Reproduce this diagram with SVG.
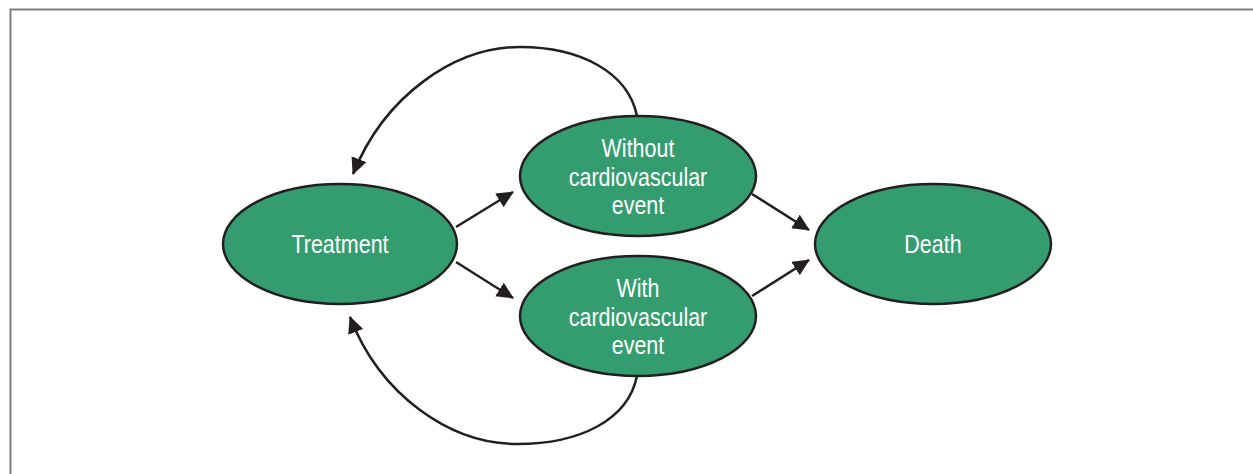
<svg xmlns="http://www.w3.org/2000/svg" width="1253" height="474" viewBox="0 0 1253 474">
<style>
.node ellipse{fill:#349d70;stroke:#231f20;stroke-width:2.5}
.node text{fill:#ffffff;font-family:"Liberation Sans",Arial,sans-serif;font-size:25px;text-anchor:middle}
.conn path,.conn line{fill:none;stroke:#231f20;stroke-width:2.5}
</style>
<defs>
<marker id="ah" markerUnits="userSpaceOnUse" markerWidth="20" markerHeight="18" refX="16" refY="8" orient="auto">
<path d="M0,0 L17,8 L0,16 z" fill="#231f20"/>
</marker>
</defs>
<rect width="1253" height="474" fill="#ffffff"/>
<path d="M10.5,474 V9.5 H1253" fill="none" stroke="#808080" stroke-width="2"/>
<g class="conn">
<line x1="456" y1="227" x2="513" y2="192" marker-end="url(#ah)"/>
<line x1="456" y1="262" x2="513" y2="298" marker-end="url(#ah)"/>
<line x1="752" y1="194" x2="809" y2="230" marker-end="url(#ah)"/>
<line x1="752" y1="296" x2="809" y2="260" marker-end="url(#ah)"/>
<path d="M637,116 C628,72 580,47 520,47 C455,47 385,95 353,174" marker-end="url(#ah)"/>
<path d="M637,376 C628,420 580,444 517,444 C450,444 380,395 350,317" marker-end="url(#ah)"/>
</g>
<g id="treatment" class="node">
<ellipse cx="340" cy="244" rx="117" ry="60"/>
<text transform="translate(340,253) scale(0.86,1)">Treatment</text>
</g>
<g id="without" class="node">
<ellipse cx="638" cy="176" rx="118" ry="60"/>
<text transform="translate(638,157) scale(0.86,1)">Without</text>
<text transform="translate(638,186) scale(0.86,1)">cardiovascular</text>
<text transform="translate(638,214) scale(0.86,1)">event</text>
</g>
<g id="with" class="node">
<ellipse cx="638" cy="316" rx="118" ry="60"/>
<text transform="translate(638,297) scale(0.86,1)">With</text>
<text transform="translate(638,326) scale(0.86,1)">cardiovascular</text>
<text transform="translate(638,354) scale(0.86,1)">event</text>
</g>
<g id="death" class="node">
<ellipse cx="933" cy="244" rx="118" ry="60"/>
<text transform="translate(933,253) scale(0.86,1)">Death</text>
</g>
</svg>
